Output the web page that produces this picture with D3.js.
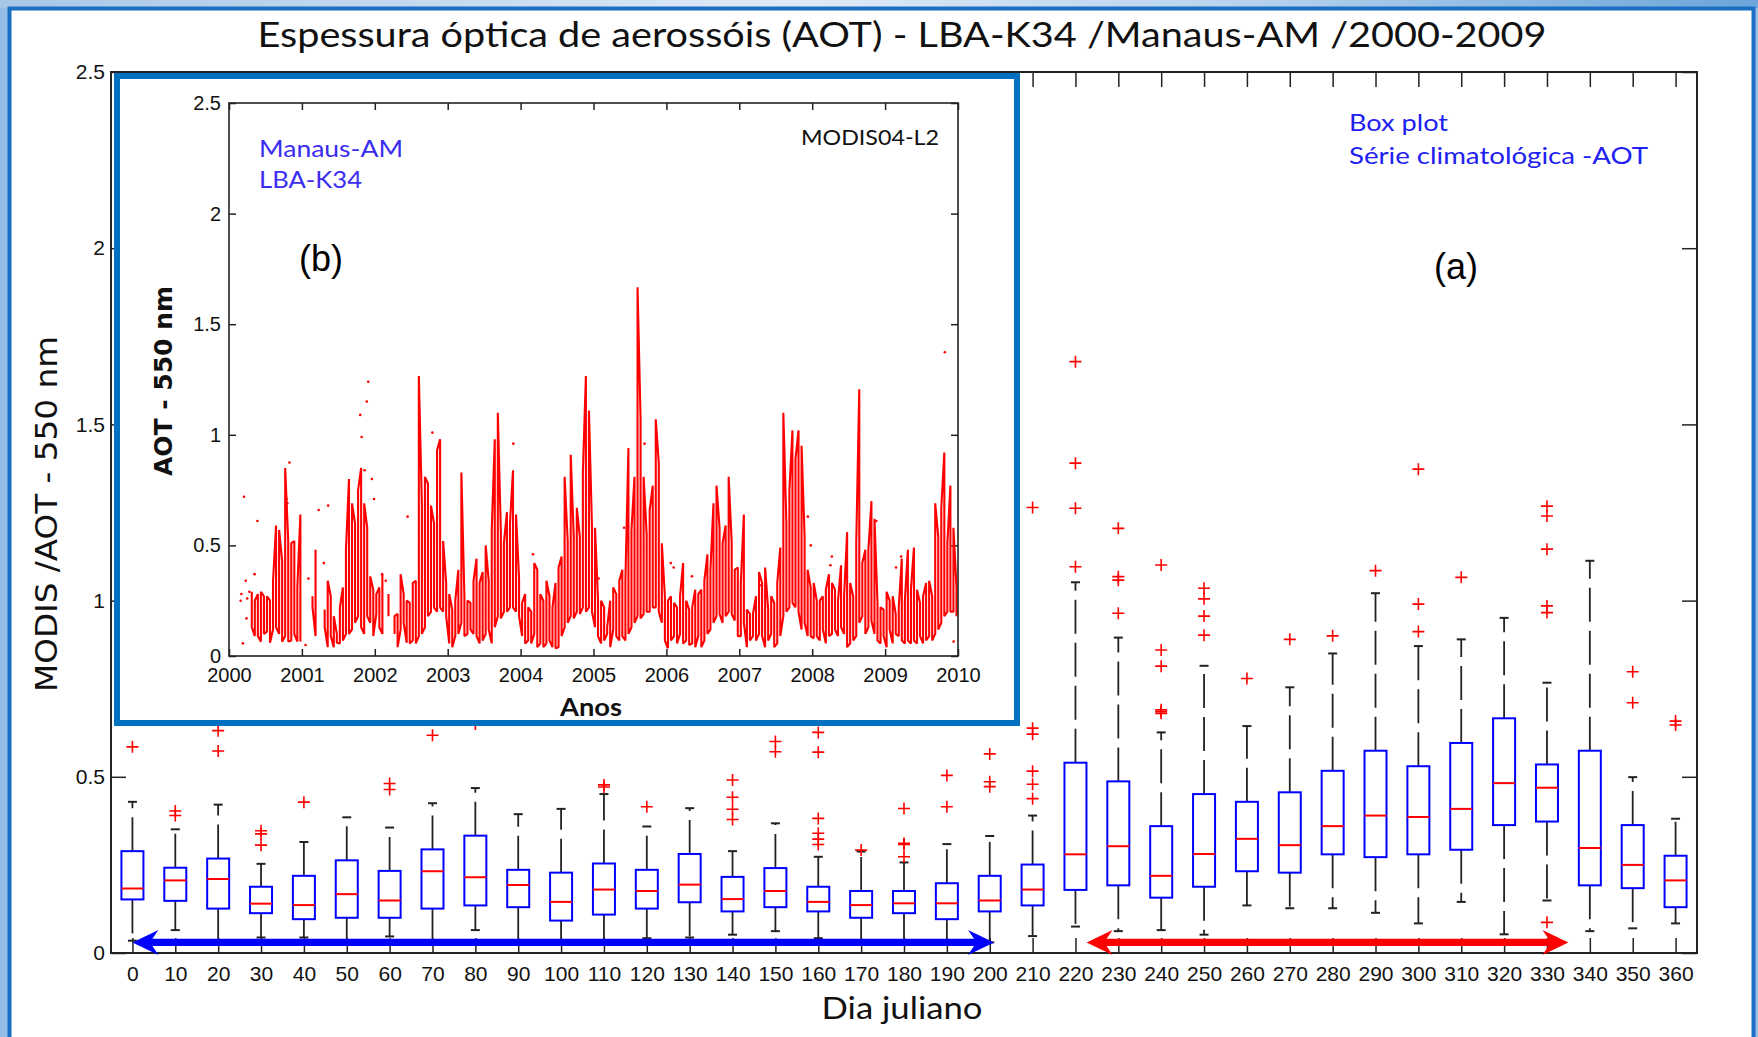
<!DOCTYPE html>
<html>
<head>
<meta charset="utf-8">
<script src="https://cdn.jsdelivr.net/npm/d3@7"></script>
<style>
body { margin: 0; background: #fff; }
svg { display: block; }
.tick text { font-family: "Liberation Sans", Arial, sans-serif; fill: #111; }
.tick line { stroke: #222; stroke-width: 1.5; }
</style>
</head>
<body>
<div id="chart"></div>
<script>
// ---- box plot (a): AOT per julian day bin ----
var days = [0,10,20,30,40,50,60,70,80,90,100,110,120,130,140,150,160,170,180,190,200,210,220,230,240,250,260,270,280,290,300,310,320,330,340,350,360];
var whiskerLow = [0.035,0.065,0.03,0.044,0.044,0.03,0.047,0.03,0.065,0.03,0.03,0.03,0.042,0.044,0.052,0.062,0.042,0.03,0.03,0.03,0.03,0.048,0.075,0.062,0.065,0.052,0.135,0.127,0.127,0.114,0.084,0.145,0.053,0.149,0.062,0.07,0.084];
var q1 = [0.152,0.148,0.126,0.113,0.096,0.1,0.1,0.126,0.135,0.13,0.092,0.109,0.126,0.144,0.118,0.13,0.118,0.1,0.113,0.096,0.118,0.135,0.179,0.192,0.157,0.188,0.232,0.228,0.28,0.272,0.28,0.293,0.363,0.373,0.192,0.184,0.13];
var median = [0.183,0.206,0.21,0.14,0.136,0.167,0.149,0.232,0.215,0.193,0.145,0.18,0.176,0.194,0.153,0.176,0.145,0.136,0.141,0.141,0.149,0.18,0.28,0.303,0.219,0.281,0.324,0.306,0.36,0.39,0.386,0.409,0.482,0.469,0.298,0.25,0.206];
var q3 = [0.289,0.242,0.268,0.188,0.219,0.263,0.233,0.294,0.333,0.236,0.228,0.254,0.236,0.281,0.216,0.241,0.188,0.176,0.176,0.198,0.219,0.251,0.54,0.487,0.36,0.451,0.429,0.456,0.517,0.574,0.53,0.596,0.666,0.535,0.574,0.363,0.276];
var whiskerHigh = [0.429,0.351,0.421,0.253,0.315,0.385,0.356,0.425,0.468,0.394,0.409,0.451,0.359,0.411,0.289,0.368,0.273,0.288,0.257,0.309,0.332,0.39,1.052,0.895,0.626,0.815,0.644,0.754,0.85,1.021,0.871,0.89,0.951,0.767,1.113,0.499,0.381];
var outliers = [
  [0.585], [0.403,0.39], [0.631,0.573], [0.347,0.338,0.306], [0.428], [], [0.481,0.464], [0.618], [0.65], [], [],
  [0.477,0.471], [0.415], [], [0.491,0.442,0.408,0.379], [0.6,0.571], [0.626,0.57,0.382,0.34,0.323,0.308], [0.292],
  [0.41,0.311,0.308,0.273], [0.504,0.415], [0.565,0.486,0.472], [1.264,0.638,0.621,0.516,0.479,0.438],
  [1.678,1.39,1.262,1.096], [1.205,1.068,1.058,0.964], [1.101,0.86,0.814,0.69,0.685,0.68], [1.035,1.005,0.956,0.902],
  [0.779], [0.89], [0.9], [1.085], [1.373,0.99,0.912], [1.066], [], [1.268,1.24,1.146,0.985,0.966,0.087], [],
  [0.798,0.71], [0.658,0.647]
];
var mainTicksY = [0, 0.5, 1, 1.5, 2, 2.5];

// season arrows (julian days) drawn just above the axis
var arrowSpans = [[0, 201], [222.6, 335]];
var arrowLevel = 0.03;

// ---- inset (b): AOT series 2000-2009, half-month [low, high] ranges ----
var years = [2000,2001,2002,2003,2004,2005,2006,2007,2008,2009];
var aot2000 = [null,null,null,null,null,null,null,[0.13,0.29],[0.09,0.25],[0.09,0.28],[0.065,0.29],[0.1,0.27],[0.11,0.27],[0.06,0.25],[0.12,0.34],[0.13,0.59],[0.1,0.57],[0.065,0.43],[0.09,0.85],[0.065,0.52],[0.07,0.51],[0.1,0.52],[0.065,0.31],[0.065,0.64]];
var aot2001 = [null,null,null,[0.22,0.27],[0.09,0.48],null,null,[0.13,0.21],[0.04,0.34],[0.09,0.27],[0.04,0.18],[0.06,0.1],[0.057,0.22],[0.07,0.31],[0.1,0.48],[0.1,0.8],[0.12,0.69],[0.15,0.6],[0.18,0.75],[0.13,0.85],[0.1,0.69],[0.18,0.58],[0.15,0.36],[0.09,0.3]];
var aot2002 = [[0.19,0.28],[0.13,0.31],[0.1,0.37],null,[0.18,0.28],null,[0.1,0.18],[0.04,0.19],[0.12,0.37],[0.15,0.28],[0.06,0.25],[0.057,0.24],[0.07,0.33],[0.057,0.34],[0.09,1.266],[0.1,0.68],[0.13,0.81],[0.18,0.78],[0.2,0.68],[0.22,0.6],[0.2,0.93],[0.22,0.98],[0.2,0.52],[0.18,0.33]];
var aot2003 = [[0.057,0.28],[0.04,0.21],[0.09,0.25],[0.1,0.39],[0.15,0.83],[0.09,0.27],[0.1,0.25],[0.12,0.24],[0.1,0.34],[0.09,0.44],[0.057,0.33],[0.07,0.38],[0.1,0.5],[0.12,0.34],[0.057,0.57],[0.13,0.98],[0.18,1.1],[0.17,0.56],[0.2,0.51],[0.2,0.65],[0.22,0.6],[0.22,0.84],[0.2,0.64],[0.18,0.35]];
var aot2004 = [[0.09,0.24],[0.057,0.28],[0.07,0.22],[0.057,0.2],[0.1,0.42],[0.04,0.39],[0.057,0.28],[0.04,0.25],[0.057,0.34],[0.07,0.27],[0.04,0.22],[0.035,0.33],[0.04,0.4],[0.09,0.45],[0.13,0.81],[0.15,0.52],[0.18,0.91],[0.17,0.54],[0.2,0.67],[0.19,0.54],[0.22,0.83],[0.2,1.266],[0.22,1.11],[0.2,0.58]];
var aot2005 = [[0.13,0.58],[0.09,0.25],[0.057,0.25],[0.07,0.22],[0.1,0.13],[0.04,0.25],[0.12,0.31],[0.09,0.28],[0.07,0.34],[0.09,0.39],[0.07,0.34],[0.1,0.94],[0.13,0.57],[0.15,0.81],[0.18,1.667],[0.17,1.07],[0.19,0.81],[0.2,0.55],[0.2,0.66],[0.22,0.77],[0.22,1.07],[0.2,0.87],[0.15,0.51],[0.07,0.27]];
var aot2006 = [[0.035,0.25],[0.07,0.27],[0.09,0.24],[0.057,0.22],[0.1,0.27],[0.057,0.42],[0.07,0.25],[0.05,0.21],[0.057,0.22],[0.04,0.3],[0.09,0.28],[0.04,0.3],[0.07,0.34],[0.1,0.46],[0.12,0.39],[0.15,0.69],[0.18,0.77],[0.19,0.58],[0.15,0.51],[0.18,0.59],[0.2,0.81],[0.19,0.51],[0.16,0.39],[0.09,0.4]];
var aot2007 = [[0.09,0.33],[0.15,0.64],[0.04,0.21],[0.07,0.19],[0.09,0.19],[0.07,0.27],[0.1,0.38],[0.09,0.33],[0.04,0.4],[0.07,0.21],[0.1,0.27],[0.04,0.24],[0.057,0.33],[0.09,0.49],[0.18,1.1],[0.2,0.6],[0.22,0.75],[0.24,1.02],[0.22,0.89],[0.2,1.02],[0.12,0.95],[0.15,0.54],[0.09,0.39],[0.09,0.31]];
var aot2008 = [[0.08,0.33],[0.09,0.25],[0.07,0.25],[0.12,0.27],[0.057,0.3],[0.09,0.37],[0.1,0.33],[0.12,0.3],[0.09,0.25],[0.13,0.41],[0.1,0.27],[0.04,0.56],[0.057,0.33],[0.07,0.27],[0.09,0.51],[0.15,1.206],[0.18,0.42],[0.1,0.48],[0.13,0.48],[0.16,0.7],[0.1,0.62],[0.07,0.24],[0.057,0.22],[0.09,0.21]];
var aot2009 = [[0.04,0.29],[0.12,0.25],[0.057,0.27],[0.1,0.19],[0.09,0.22],[0.07,0.44],[0.057,0.25],[0.07,0.48],[0.057,0.3],[0.07,0.49],[0.057,0.3],[0.09,0.24],[0.057,0.27],[0.07,0.33],[0.09,0.34],[0.07,0.27],[0.1,0.69],[0.12,0.54],[0.15,0.67],[0.18,0.92],[0.2,0.51],[0.2,0.77],[0.2,0.58],[0.18,0.31]];
var aotByYear = [aot2000, aot2001, aot2002, aot2003, aot2004, aot2005, aot2006, aot2007, aot2008, aot2009];

// isolated daily values (dots)
var dotYears = [2000.16,2000.17,2000.19,2000.205,2000.23,2000.24,2000.25,2000.28,2000.35,2000.39,2000.79,2000.8,2000.83,2001.05,2001.09,2001.23,2001.3,2001.36,2001.8,2001.82,2001.86,2001.89,2001.91,2001.96,2001.99,2002.1,2002.15,2002.45,2002.79,2003.9,2004.17,2005.07,2005.42,2005.7,2006.06,2006.1,2006.35,2007.3,2007.94,2007.98,2008.25,2008.27,2008.88,2009.15,2009.22,2009.82,2009.94];
var dotValues = [0.25,0.28,0.057,0.72,0.34,0.17,0.26,0.29,0.37,0.61,0.71,0.69,0.875,0.05,0.35,0.66,0.42,0.68,1.09,0.99,0.84,1.15,1.24,0.8,0.71,0.37,0.34,0.63,1.01,0.96,0.46,0.35,0.58,0.96,0.42,0.4,0.36,0.32,0.63,0.5,0.41,0.45,0.61,0.4,0.45,1.373,0.065];

var insetTicksX = [2000,2001,2002,2003,2004,2005,2006,2007,2008,2009,2010];
var insetTicksY = [0, 0.5, 1, 1.5, 2, 2.5];

var width = 1758, height = 1037;
var numFormat = d3.format("~g");

var svg = d3.select("#chart").append("svg")
    .attr("width", width)
    .attr("height", height);

// ---- window frame ----
var defs = svg.append("defs");
var topGrad = defs.append("linearGradient").attr("id", "topGrad");
topGrad.append("stop").attr("offset", "0%").attr("stop-color", "#a7c7e7");
topGrad.append("stop").attr("offset", "45%").attr("stop-color", "#dfeaf6");
topGrad.append("stop").attr("offset", "70%").attr("stop-color", "#b9d3ee");
topGrad.append("stop").attr("offset", "100%").attr("stop-color", "#6ba5d9");

svg.append("rect").attr("width", width).attr("height", height).attr("fill", "#94bce4");
svg.append("rect").attr("width", width).attr("height", 8).attr("fill", "url(#topGrad)");
svg.append("rect")
    .attr("x", 9.5).attr("y", 8.5)
    .attr("width", 1744).attr("height", 1040)
    .attr("fill", "#fff")
    .attr("stroke", "#1b6fc2")
    .attr("stroke-width", 4);

// ---- main box plot ----
var x = d3.scaleLinear().domain([-5, 365]).range([111, 1697]);
var y = d3.scaleLinear().domain([0, 2.5]).range([953, 72]);

function noDomain(g) { g.select(".domain").remove(); }

svg.append("g")
    .attr("transform", "translate(0," + y(0) + ")")
    .call(d3.axisBottom(x).tickValues(days).tickSizeInner(-15).tickSizeOuter(0).tickPadding(13))
    .call(noDomain)
    .selectAll("text").style("font-size", "21px");

svg.append("g")
    .attr("transform", "translate(0," + y(2.5) + ")")
    .call(d3.axisTop(x).tickValues(days).tickSizeInner(-15).tickSizeOuter(0).tickFormat(""))
    .call(noDomain);

svg.append("g")
    .attr("transform", "translate(" + x(-5) + ",0)")
    .call(d3.axisLeft(y).tickValues(mainTicksY).tickFormat(numFormat).tickSizeInner(-15).tickSizeOuter(0).tickPadding(6))
    .call(noDomain)
    .selectAll("text").style("font-size", "21px");

svg.append("g")
    .attr("transform", "translate(" + x(365) + ",0)")
    .call(d3.axisRight(y).tickValues(mainTicksY).tickSizeInner(-15).tickSizeOuter(0).tickFormat(""))
    .call(noDomain);

svg.append("rect")
    .attr("x", x(-5)).attr("y", y(2.5))
    .attr("width", x(365) - x(-5)).attr("height", y(0) - y(2.5))
    .attr("fill", "none").attr("stroke", "#222").attr("stroke-width", 2);

var boxHalf = 11, capHalf = 4.5;
var boxes = svg.append("g").attr("class", "boxes")
  .selectAll("g")
  .data(days)
  .enter().append("g");

// dashed whiskers
boxes.append("line")
    .attr("x1", function(d) { return x(d); }).attr("x2", function(d) { return x(d); })
    .attr("y1", function(d, i) { return y(q3[i]); })
    .attr("y2", function(d, i) { return y(whiskerHigh[i]); })
    .attr("stroke", "#222").attr("stroke-width", 1.8).attr("stroke-dasharray", "34,9");
boxes.append("line")
    .attr("x1", function(d) { return x(d); }).attr("x2", function(d) { return x(d); })
    .attr("y1", function(d, i) { return y(q1[i]); })
    .attr("y2", function(d, i) { return y(whiskerLow[i]); })
    .attr("stroke", "#222").attr("stroke-width", 1.8).attr("stroke-dasharray", "34,9");
// caps
boxes.each(function(d, i) {
  var g = d3.select(this);
  [whiskerHigh[i], whiskerLow[i]].forEach(function(v) {
    g.append("line")
      .attr("x1", x(d) - capHalf).attr("x2", x(d) + capHalf)
      .attr("y1", y(v)).attr("y2", y(v))
      .attr("stroke", "#222").attr("stroke-width", 2);
  });
});
boxes.append("rect")
    .attr("x", function(d) { return x(d) - boxHalf; })
    .attr("y", function(d, i) { return y(q3[i]); })
    .attr("width", boxHalf * 2)
    .attr("height", function(d, i) { return y(q1[i]) - y(q3[i]); })
    .attr("fill", "none").attr("stroke", "#0000ff").attr("stroke-width", 2);
boxes.append("line")
    .attr("x1", function(d) { return x(d) - boxHalf; })
    .attr("x2", function(d) { return x(d) + boxHalf; })
    .attr("y1", function(d, i) { return y(median[i]); })
    .attr("y2", function(d, i) { return y(median[i]); })
    .attr("stroke", "#ff0000").attr("stroke-width", 2);

// outliers as red plus signs
boxes.each(function(d, i) {
  var g = d3.select(this);
  outliers[i].forEach(function(v) {
    g.append("path")
      .attr("d", "M" + (x(d) - 6) + "," + y(v) + "h12M" + x(d) + "," + (y(v) - 6) + "v12")
      .attr("stroke", "#ff0000").attr("stroke-width", 1.6).attr("fill", "none");
  });
});

// double-headed arrows
var arrowColors = ["#0000ff", "#ff0000"];
function drawArrow(span, color) {
  var ya = y(arrowLevel), xa = x(span[0]), xb = x(span[1]);
  var L = 26, H = 12.5, T = 3.6;
  var pts = [[xa, ya], [xa + L, ya - H], [xa + L - 6, ya - T], [xb - L + 6, ya - T], [xb - L, ya - H],
             [xb, ya], [xb - L, ya + H], [xb - L + 6, ya + T], [xa + L - 6, ya + T], [xa + L, ya + H]];
  svg.append("polygon").attr("points", pts.join(" ")).attr("fill", color);
}
arrowSpans.forEach(function(s, i) { drawArrow(s, arrowColors[i]); });

svg.append("text")
    .attr("x", 1349).attr("y", 131)
    .attr("textLength", 99).attr("lengthAdjust", "spacingAndGlyphs")
    .style("font-family", "Lato, 'DejaVu Sans', sans-serif").style("font-size", "24px").style("fill", "#2020f0")
    .text("Box plot");
svg.append("text")
    .attr("x", 1349).attr("y", 164)
    .attr("textLength", 299).attr("lengthAdjust", "spacingAndGlyphs")
    .style("font-family", "Lato, 'DejaVu Sans', sans-serif").style("font-size", "24px").style("fill", "#2020f0")
    .text("Série climatológica -AOT");
svg.append("text")
    .attr("x", 1456).attr("y", 279).attr("text-anchor", "middle")
    .style("font-family", "'Liberation Sans', Arial, sans-serif").style("font-size", "36px")
    .text("(a)");

// ---- titles ----
svg.append("text")
    .attr("x", 902).attr("y", 47).attr("text-anchor", "middle")
    .attr("textLength", 1289).attr("lengthAdjust", "spacingAndGlyphs")
    .style("font-family", "Lato, 'DejaVu Sans', sans-serif").style("font-size", "34px").style("fill", "#111")
    .text("Espessura óptica de aerossóis (AOT) - LBA-K34 /Manaus-AM /2000-2009");
svg.append("text")
    .attr("x", 902).attr("y", 1019).attr("text-anchor", "middle")
    .attr("textLength", 161).attr("lengthAdjust", "spacingAndGlyphs")
    .style("font-family", "Lato, 'DejaVu Sans', sans-serif").style("font-size", "30px").style("fill", "#111")
    .text("Dia juliano");
svg.append("text")
    .attr("transform", "translate(57,514) rotate(-90)").attr("text-anchor", "middle")
    .attr("textLength", 356).attr("lengthAdjust", "spacingAndGlyphs")
    .style("font-family", "'DejaVu Sans', sans-serif").style("font-size", "31px").style("fill", "#111")
    .text("MODIS /AOT - 550 nm");

// ---- inset (b) ----
svg.append("rect")
    .attr("x", 117).attr("y", 76)
    .attr("width", 900).attr("height", 647)
    .attr("fill", "#fff").attr("stroke", "#0070c0").attr("stroke-width", 6);

var xIn = d3.scaleLinear().domain([2000, 2010]).range([229, 958]);
var yIn = d3.scaleLinear().domain([0, 2.5]).range([656, 103]);

var inset = svg.append("g").attr("class", "inset");

inset.append("g")
    .attr("transform", "translate(0," + yIn(0) + ")")
    .call(d3.axisBottom(xIn).tickValues(insetTicksX).tickFormat(d3.format("d")).tickSizeInner(-7).tickSizeOuter(0).tickPadding(12))
    .call(noDomain)
    .selectAll("text").style("font-size", "20px");
inset.append("g")
    .attr("transform", "translate(0," + yIn(2.5) + ")")
    .call(d3.axisTop(xIn).tickValues(insetTicksX).tickSizeInner(-7).tickSizeOuter(0).tickFormat(""))
    .call(noDomain);
inset.append("g")
    .attr("transform", "translate(" + xIn(2000) + ",0)")
    .call(d3.axisLeft(yIn).tickValues(insetTicksY).tickFormat(numFormat).tickSizeInner(-7).tickSizeOuter(0).tickPadding(8))
    .call(noDomain)
    .selectAll("text").style("font-size", "20px");
inset.append("g")
    .attr("transform", "translate(" + xIn(2010) + ",0)")
    .call(d3.axisRight(yIn).tickValues(insetTicksY).tickSizeInner(-7).tickSizeOuter(0).tickFormat(""))
    .call(noDomain);

// series: each half-month bin is a vertical stroke between its low and high,
// direction alternates so neighbouring bins join along the top or the bottom
var insetPoints = [];
aotByYear.forEach(function(bins, i) {
  bins.forEach(function(b, k) {
    if (b === null) { insetPoints.push(null); return; }
    var t = years[i] + (k + 0.5) / 24;
    var first = k % 2 === 0 ? b[0] : b[1];
    var second = k % 2 === 0 ? b[1] : b[0];
    insetPoints.push({t: t, v: first});
    insetPoints.push({t: t, v: second});
  });
});
var aotLine = d3.line()
    .defined(function(d) { return d !== null; })
    .x(function(d) { return xIn(d.t); })
    .y(function(d) { return yIn(d.v); });

inset.append("path")
    .datum(insetPoints)
    .attr("d", aotLine)
    .attr("fill", "none").attr("stroke", "#ff0000").attr("stroke-width", 2.1)
    .attr("stroke-linejoin", "bevel");

inset.selectAll(".dot")
    .data(dotYears)
  .enter().append("circle")
    .attr("class", "dot")
    .attr("cx", function(d) { return xIn(d); })
    .attr("cy", function(d, i) { return yIn(dotValues[i]); })
    .attr("r", 1.3)
    .attr("fill", "#ff0000");

inset.append("rect")
    .attr("x", xIn(2000)).attr("y", yIn(2.5))
    .attr("width", xIn(2010) - xIn(2000)).attr("height", yIn(0) - yIn(2.5))
    .attr("fill", "none").attr("stroke", "#222").attr("stroke-width", 1.6);

inset.append("text")
    .attr("x", 259).attr("y", 157)
    .attr("textLength", 144).attr("lengthAdjust", "spacingAndGlyphs")
    .style("font-family", "Lato, 'DejaVu Sans', sans-serif").style("font-size", "23px").style("fill", "#3b2cf2")
    .text("Manaus-AM");
inset.append("text")
    .attr("x", 259).attr("y", 188)
    .attr("textLength", 103).attr("lengthAdjust", "spacingAndGlyphs")
    .style("font-family", "Lato, 'DejaVu Sans', sans-serif").style("font-size", "23px").style("fill", "#3b2cf2")
    .text("LBA-K34");
inset.append("text")
    .attr("x", 801).attr("y", 145)
    .attr("textLength", 138).attr("lengthAdjust", "spacingAndGlyphs")
    .style("font-family", "Lato, 'DejaVu Sans', sans-serif").style("font-size", "21px").style("fill", "#111")
    .text("MODIS04-L2");
inset.append("text")
    .attr("x", 321).attr("y", 271).attr("text-anchor", "middle")
    .style("font-family", "'Liberation Sans', Arial, sans-serif").style("font-size", "36px")
    .text("(b)");
inset.append("text")
    .attr("transform", "translate(172,381) rotate(-90)").attr("text-anchor", "middle")
    .attr("textLength", 190).attr("lengthAdjust", "spacingAndGlyphs")
    .style("font-family", "'DejaVu Sans', sans-serif").style("font-size", "24px").style("font-weight", "bold").style("fill", "#111")
    .text("AOT - 550 nm");
inset.append("text")
    .attr("x", 591).attr("y", 716).attr("text-anchor", "middle")
    .attr("textLength", 62).attr("lengthAdjust", "spacingAndGlyphs")
    .style("font-family", "Lato, 'DejaVu Sans', sans-serif").style("font-size", "25px").style("font-weight", "bold").style("fill", "#111")
    .text("Anos");
</script>
</body>
</html>
